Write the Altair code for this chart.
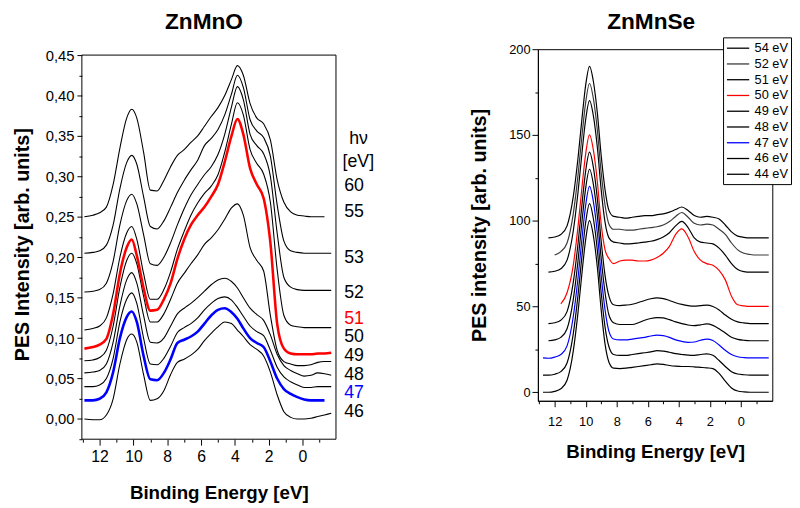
import altair as alt
import pandas as pd

FONT = "Liberation Sans"

# ---------------- ZnMnO (left panel) ----------------
E_O = [12.9, 12.4, 12.0, 11.6, 11.2, 10.8, 10.4, 10.1, 9.8, 9.4, 9.0, 8.6, 8.2, 7.8, 7.4,
       7.0, 6.6, 6.2, 5.8, 5.4, 5.0, 4.6, 4.2, 3.85, 3.5, 3.1, 2.7, 2.3, 1.9, 1.5, 1.1,
       0.7, 0.3, -0.1, -0.5, -0.9, -1.3, -1.7]

O_60 = [0.250, 0.252, 0.255, 0.262, 0.290, 0.335, 0.372, 0.383, 0.372, 0.330, 0.283, 0.282, 0.295, 0.312, 0.326,
        0.333, 0.342, 0.350, 0.362, 0.374, 0.385, 0.400, 0.420, 0.437, 0.425, 0.390, 0.372, 0.365, 0.345, 0.296, 0.268,
        0.256, 0.252, 0.251, 0.250, 0.250, 0.250, None]
O_55 = [0.205, 0.206, 0.208, 0.215, 0.240, 0.285, 0.317, 0.326, 0.315, 0.275, 0.238, 0.235, 0.245, 0.262, 0.280,
        0.295, 0.308, 0.320, 0.338, 0.347, 0.358, 0.376, 0.402, 0.425, 0.410, 0.370, 0.356, 0.348, 0.325, 0.265, 0.220,
        0.208, 0.206, 0.205, 0.205, 0.205, 0.205, 0.205]
O_53 = [0.157, 0.158, 0.160, 0.168, 0.195, 0.240, 0.270, 0.278, 0.266, 0.228, 0.192, 0.190, 0.200, 0.218, 0.240,
        0.260, 0.277, 0.290, 0.302, 0.312, 0.327, 0.352, 0.386, 0.411, 0.395, 0.352, 0.338, 0.328, 0.300, 0.230, 0.175,
        0.163, 0.160, 0.159, 0.159, 0.159, 0.159, 0.159]
O_52 = [0.110, 0.112, 0.115, 0.125, 0.155, 0.200, 0.230, 0.238, 0.222, 0.180, 0.148, 0.148, 0.160, 0.182, 0.210,
        0.232, 0.252, 0.267, 0.279, 0.288, 0.302, 0.330, 0.365, 0.391, 0.376, 0.333, 0.316, 0.303, 0.268, 0.185, 0.128,
        0.116, 0.114, 0.113, 0.113, 0.113, 0.113, 0.113]
O_51 = [0.087, 0.089, 0.092, 0.099, 0.130, 0.180, 0.212, 0.222, 0.202, 0.162, 0.134, 0.135, 0.148, 0.168, 0.198,
        0.222, 0.240, 0.252, 0.262, 0.275, 0.290, 0.318, 0.350, 0.371, 0.352, 0.310, 0.290, 0.273, 0.218, 0.118, 0.087,
        0.081, 0.080, 0.080, 0.080, 0.081, 0.081, 0.082]
O_50 = [0.072, 0.073, 0.076, 0.085, 0.115, 0.163, 0.196, 0.205, 0.192, 0.152, 0.120, 0.120, 0.130, 0.148, 0.168,
        0.180, 0.192, 0.203, 0.216, 0.224, 0.234, 0.247, 0.261, 0.266, 0.252, 0.212, 0.196, 0.183, 0.128, 0.085, 0.071,
        0.068, 0.066, 0.066, 0.067, 0.070, 0.071, 0.071]
O_49 = [0.057, 0.058, 0.060, 0.068, 0.095, 0.140, 0.172, 0.181, 0.168, 0.128, 0.095, 0.094, 0.100, 0.115, 0.130,
        0.137, 0.143, 0.150, 0.158, 0.166, 0.172, 0.174, 0.170, 0.162, 0.150, 0.137, 0.129, 0.122, 0.104, 0.080, 0.066,
        0.060, 0.056, 0.053, 0.054, 0.057, 0.056, 0.054]
O_48 = [0.040, 0.040, 0.042, 0.050, 0.075, 0.120, 0.148, 0.156, 0.143, 0.100, 0.068, 0.067, 0.075, 0.090, 0.107,
        0.113, 0.118, 0.125, 0.135, 0.143, 0.149, 0.151, 0.147, 0.138, 0.127, 0.115, 0.108, 0.103, 0.085, 0.064, 0.052,
        0.046, 0.042, 0.039, 0.039, 0.040, 0.040, 0.040]
O_47 = [0.023, 0.023, 0.025, 0.033, 0.058, 0.100, 0.126, 0.133, 0.120, 0.078, 0.049, 0.048, 0.057, 0.074, 0.094,
        0.098, 0.102, 0.108, 0.118, 0.128, 0.135, 0.137, 0.132, 0.124, 0.112, 0.100, 0.094, 0.089, 0.071, 0.050, 0.037,
        0.031, 0.027, 0.024, 0.023, 0.023, 0.023, None]
O_46 = [0.000, -0.001, -0.001, 0.005, 0.025, 0.068, 0.098, 0.105, 0.095, 0.055, 0.023, 0.025, 0.035, 0.055, 0.070,
        0.074, 0.079, 0.086, 0.097, 0.106, 0.114, 0.120, 0.118, 0.110, 0.102, 0.092, 0.086, 0.078, 0.058, 0.030, 0.009,
        0.002, 0.000, 0.000, 0.001, 0.003, 0.005, 0.007]

O_SERIES = ["60", "55", "53", "52", "50", "49", "48", "46", "51", "47"]   # red / blue drawn last
O_VALUES = [O_60, O_55, O_53, O_52, O_50, O_49, O_48, O_46, O_51, O_47]

# photon-energy labels at the right of the ZnMnO panel
LBL_TEXT = ["hν", "[eV]", "60", "55", "53", "52", "51", "50", "49", "48", "47", "46"]
LBL_E = [-2.76, -2.37, -2.47, -2.47, -2.47, -2.47, -2.47, -2.47, -2.47, -2.47, -2.47, -2.47]
LBL_I = [0.3467, 0.3171, 0.2886, 0.2561, 0.1994, 0.1557, 0.1232, 0.1008, 0.0776, 0.0549, 0.0317, 0.0082]

O_COLOR_DOMAIN = ["60", "55", "53", "52", "51", "50", "49", "48", "47", "46", "hν", "[eV]"]
O_COLOR_RANGE = ["black", "black", "black", "black", "#ff0000", "black", "black", "black", "#0000ff", "black",
                 "black", "black"]

# axis ranges of the ZnMnO frame
O_X_RANGE = [13.05, -1.98]
O_Y_RANGE = [-0.025, 0.45]

# ---------------- ZnMnSe (right panel) ----------------
E_S = [12.75, 12.4, 12.0, 11.6, 11.2, 10.8, 10.5, 10.2, 10.0, 9.75, 9.5, 9.25, 9.0, 8.75, 8.5,
       8.2, 7.8, 7.4, 7.0, 6.6, 6.2, 5.8, 5.4, 5.0, 4.6, 4.2, 3.8, 3.4, 3.0, 2.6,
       2.2, 1.8, 1.4, 1.0, 0.6, 0.2, -0.2, -0.6, -1.0, -1.4, -1.8]

S_54 = [None, 90, 90.5, 92, 97, 114, 136, 163, 179, 190, 181, 163, 138, 118, 106,
        102.5, 102, 101.5, 102, 102.5, 103, 103, 103.5, 104, 105, 106.5, 108, 106, 103, 102,
        102.5, 102, 101, 97.5, 93.5, 91, 90.3, 90, 90, 90, 90]
S_52 = [None, None, 80, 82, 87, 104, 126, 153, 169, 180, 171, 153, 128, 109, 98,
        95, 95, 94.5, 94.5, 95, 95.5, 96, 96.5, 97.5, 99.5, 102.5, 104.8, 102, 98.5, 97.5,
        98, 97.5, 95, 92, 87, 83, 81, 80.3, 80, 80, 80]
S_51 = [None, 70, 70.5, 72, 77, 94, 116, 143, 159, 170, 161, 143, 118, 99, 90,
        87.5, 87, 86.5, 86.6, 87, 87.5, 88, 89, 90.5, 93, 97, 99.6, 96, 90, 87.5,
        87, 86.5, 84, 80, 75, 71.5, 70.3, 70, 70, 70, 70]
S_50 = [None, None, None, 51.5, 58, 74, 96, 123, 139, 150, 141, 123, 98, 83, 78,
        75, 76.5, 77, 77, 76.5, 76.5, 77, 78.5, 81, 85, 92, 95.2, 90.5, 82, 77,
        75, 74, 71, 65.5, 56, 51, 50.3, 50, 50, 50, 50]
S_49 = [None, 40, 40.5, 42, 47, 64, 86, 113, 129, 140, 131, 113, 88, 68, 56,
        51, 50.5, 50.8, 51.3, 52.3, 53.5, 54.5, 55, 54.6, 53.5, 52.2, 51.2, 50.5, 50.2, 50.5,
        50.8, 50, 48, 45, 42.5, 41, 40.4, 40, 40, 40, 40]
S_48 = [None, 30, 30.5, 32, 37, 54, 76, 103, 119, 130, 121, 103, 78, 58, 45,
        40.5, 39.5, 39.5, 39.5, 40.5, 42, 43, 43.5, 43.3, 42.3, 41, 40, 39.2, 38.8, 39.3,
        39.8, 39, 37, 34.5, 32, 30.8, 30.3, 30, 30, 30, 30]
S_47 = [20, 19.8, 20.5, 22, 27, 44, 66, 93, 109, 120, 111, 93, 68, 48, 35.5,
        31, 30.5, 30.5, 31, 31.5, 32, 32.8, 33.3, 33, 32, 30.5, 29.6, 29.1, 29.3, 30.3,
        31, 30.2, 27.5, 24.5, 22, 20.7, 20.2, 20, 20, 20, 20]
S_46 = [10, 10, 10.5, 12, 17, 34, 56, 83, 99, 110, 101, 83, 58, 38, 26.5,
        22, 21.5, 21.5, 22, 22.5, 23, 23.5, 24.2, 24, 23.3, 22.5, 22, 21.6, 21.5, 22,
        22.4, 21.5, 18.5, 15, 12, 10.6, 10.2, 10, 10, 10, 10]
S_44 = [0, 0, 0.5, 2, 7, 24, 46, 73, 89, 100, 91, 73, 48, 28, 17.5,
        14, 13.8, 14, 14.5, 15, 15.5, 16, 16.5, 16.2, 15.6, 15.2, 15, 15, 14.8, 14.5,
        14.2, 13.8, 11, 6.5, 2.5, 0.7, 0.2, 0, 0, 0, 0]

S_LABELS = ["54 eV", "52 eV", "51 eV", "50 eV", "49 eV", "48 eV", "47 eV", "46 eV", "44 eV"]
S_COLORS = ["black", "#3a3a3a", "black", "#ff0000", "black", "black", "#0000ff", "black", "black"]
S_VALUES = [S_54, S_52, S_51, S_50, S_49, S_48, S_47, S_46, S_44]

# ---------------- tables ----------------
rows = []
for name, vals in zip(O_SERIES, O_VALUES):
    for e, v in zip(E_O, vals):
        if v is not None:
            rows.append({"E": e, "I": v, "hv": name})
df_o = pd.DataFrame(rows)
df_lbl = pd.DataFrame({"E": LBL_E, "I": LBL_I, "hv": LBL_TEXT})

rows = []
for name, vals in zip(S_LABELS, S_VALUES):
    for e, v in zip(E_S, vals):
        if v is not None:
            rows.append({"E": e, "I": v, "lab": name})
df_s = pd.DataFrame(rows)

# ---------------- left chart ----------------
# the y scale reaches a little above the frame so that the ZnMnO frame sits lower than the ZnMnSe one
xo = alt.Scale(domain=O_X_RANGE, nice=False, zero=False)
yo = alt.Scale(domain=[O_Y_RANGE[0], 0.4573], nice=False, zero=False)
o_color = alt.Color("hv:N", scale=alt.Scale(domain=O_COLOR_DOMAIN, range=O_COLOR_RANGE), legend=None)

o_lines = alt.Chart(df_o).mark_line(interpolate="monotone", clip=True).encode(
    x=alt.X("E:Q", scale=xo, axis=alt.Axis(
        orient="bottom", values=[12, 10, 8, 6, 4, 2, 0], title="Binding Energy [eV]",
        titleFontSize=19, titleFontWeight="bold", titlePadding=19, titleX=139, labelFontSize=16,
        tickSize=6, labelPadding=4, domain=False, grid=False)),
    y=alt.Y("I:Q", scale=yo, axis=alt.Axis(
        orient="left", values=[0, 0.05, 0.1, 0.15, 0.2, 0.25, 0.3, 0.35, 0.4, 0.45],
        labelExpr="replace(format(datum.value, '.2f'), '.', ',')",
        title="PES Intensity [arb. units]", titleFontSize=20, titleFontWeight="bold",
        titlePadding=13, labelFontSize=15, tickSize=5, labelPadding=3, domain=False, grid=False)),
    color=o_color,
    strokeWidth=alt.condition("datum.hv == '51' || datum.hv == '47'", alt.value(2.6), alt.value(1.1)),
)

o_text = alt.Chart(df_lbl).mark_text(align="left", baseline="middle", fontSize=18, font=FONT).encode(
    x=alt.X("E:Q", scale=xo, axis=alt.Axis(
        orient="bottom", values=[13, 11, 9, 7, 5, 3, 1, -1], labels=False, domain=False,
        tickSize=3, title=None, grid=False)),
    y=alt.Y("I:Q", scale=yo, axis=alt.Axis(
        orient="left", values=[-0.025, 0.025, 0.075, 0.125, 0.175, 0.225, 0.275, 0.325, 0.375, 0.425],
        labels=False, domain=False, tickSize=3, title=None, grid=False)),
    text="hv:N",
    color=o_color,
)

o_frame = alt.Chart(pd.DataFrame({"a": [0]})).mark_rect(
    filled=False, stroke="black", strokeWidth=1
).encode(
    x=alt.XDatum(O_X_RANGE[0], scale=xo, axis=None),
    x2=alt.X2Datum(O_X_RANGE[1]),
    y=alt.YDatum(O_Y_RANGE[0], scale=yo, axis=None),
    y2=alt.Y2Datum(O_Y_RANGE[1]),
)

left = alt.layer(o_lines, o_text, o_frame).resolve_axis(x="independent", y="independent").properties(
    width=258, height=396,
    view=alt.ViewBackground(strokeOpacity=0),
    title=alt.TitleParams("ZnMnO", fontSize=23, fontWeight="bold", font=FONT, offset=9, dy=-5, dx=-5,
                          anchor="middle"),
)

# ---------------- right chart ----------------
xs = alt.Scale(domain=[13.08, -2.03], nice=False, zero=False)
ys = alt.Scale(domain=[-5, 200], nice=False, zero=False)

s_lines = alt.Chart(df_s).mark_line(interpolate="monotone", strokeWidth=1.2, clip=True).encode(
    x=alt.X("E:Q", scale=xs, axis=alt.Axis(
        orient="bottom", values=[12, 10, 8, 6, 4, 2, 0], title="Binding Energy [eV]",
        titleFontSize=19, titleFontWeight="bold", titlePadding=15, labelFontSize=13,
        tickSize=6, labelPadding=9, grid=False)),
    y=alt.Y("I:Q", scale=ys, axis=alt.Axis(
        orient="left", values=[0, 50, 100, 150, 200], title="PES intensity [arb. units]",
        titleFontSize=20, titleFontWeight="bold", titlePadding=19, labelFontSize=13,
        tickSize=6, labelPadding=2, grid=False)),
    color=alt.Color("lab:N", sort=S_LABELS, scale=alt.Scale(domain=S_LABELS, range=S_COLORS), legend=alt.Legend(
        title=None, orient="none", legendX=188, legendY=-12, direction="vertical",
        strokeColor="black", fillColor="white", padding=3, cornerRadius=0,
        symbolType="M -1 0 L 2.2 0", symbolSize=200, symbolStrokeWidth=1.3,
        labelFontSize=13, labelFont=FONT, labelColor="black", labelOffset=13, rowPadding=1)),
    detail="lab:N",
)

s_minor = alt.Chart(df_s).mark_point(opacity=0, size=1).encode(
    x=alt.X("E:Q", scale=xs, axis=alt.Axis(
        orient="bottom", values=[13, 11, 9, 7, 5, 3, 1, -1], labels=False, domain=False,
        tickSize=3, title=None, grid=False)),
    y=alt.Y("I:Q", scale=ys, axis=alt.Axis(
        orient="left", values=[25, 75, 125, 175], labels=False, domain=False,
        tickSize=3, title=None, grid=False)),
)

right = alt.layer(s_lines, s_minor).resolve_axis(x="independent", y="independent").properties(
    width=238, height=357,
    title=alt.TitleParams("ZnMnSe", fontSize=23, fontWeight="bold", font=FONT, offset=3, dx=-4, anchor="middle"),
)

chart = alt.hconcat(left, right, spacing=96).resolve_scale(color="independent").properties(
    padding={"left": 4, "top": -1, "right": 0, "bottom": 0}
).configure(font=FONT).configure_view(
    stroke="black", strokeWidth=1
).configure_axis(
    domainColor="black", tickColor="black", labelColor="black", titleColor="black",
    labelFont=FONT, titleFont=FONT, grid=False
)

chart.save("out.html", embed_options={"renderer": "svg", "actions": False})
